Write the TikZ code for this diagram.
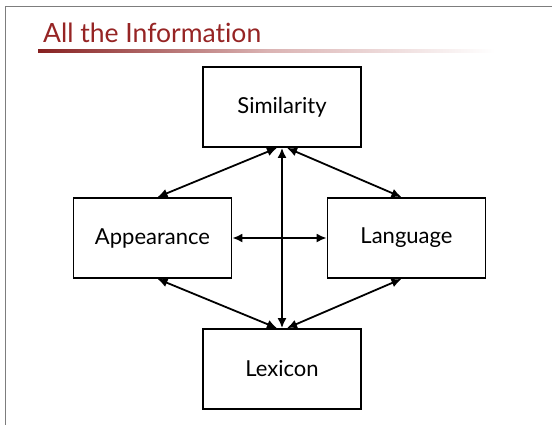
\documentclass[tikz,border=0pt]{standalone}
\usepackage{fontspec}
\setmainfont{Lato}[Ligatures=NoCommon]
\usetikzlibrary{arrows.meta}
\definecolor{titlered}{RGB}{150,36,36}
\definecolor{framegray}{RGB}{125,125,125}
\begin{document}
\begin{tikzpicture}[x=1pt,y=-1pt,
  box/.style={draw=black,line width=1.8pt,minimum width=158pt,minimum height=80pt,inner sep=0pt,font=\fontsize{22}{26}\selectfont},
  link/.style={line width=1.8pt,{Latex[length=10pt,width=9pt]}-{Latex[length=10pt,width=9pt]}}]
\useasboundingbox (0,0) rectangle (552,424);
\fill[white] (0,0) rectangle (552,424);
\draw[framegray,line width=1.2pt] (5.5,430) -- (5.5,6.5) -- (560,6.5);
\node[anchor=base west,text=titlered,inner sep=0pt,font=\fontsize{26.5}{30}\selectfont] (title) at (43,42) {All the Information};
\shade[left color=titlered!90!black,right color=white,middle color=titlered!35!white] (38,49.5) rectangle (495,52.5);
\node[box] (sim) at (282,107) {Similarity};
\node[box] (app) at (152.5,238) {Appearance};
\node[box] (lang) at (406.5,238) {Language};
\node[box] (lex) at (282,369) {Lexicon};
\draw[link] (sim.south) -- (lex.north);
\draw[link] (app.east) -- (lang.west);
\draw[link] ([xshift=-5pt]sim.south) -- ([xshift=5pt]app.north);
\draw[link] ([xshift=5pt]sim.south) -- ([xshift=-5pt]lang.north);
\draw[link] ([xshift=5pt]app.south) -- ([xshift=-5pt]lex.north);
\draw[link] ([xshift=-5pt]lang.south) -- ([xshift=5pt]lex.north);
\end{tikzpicture}
\end{document}
